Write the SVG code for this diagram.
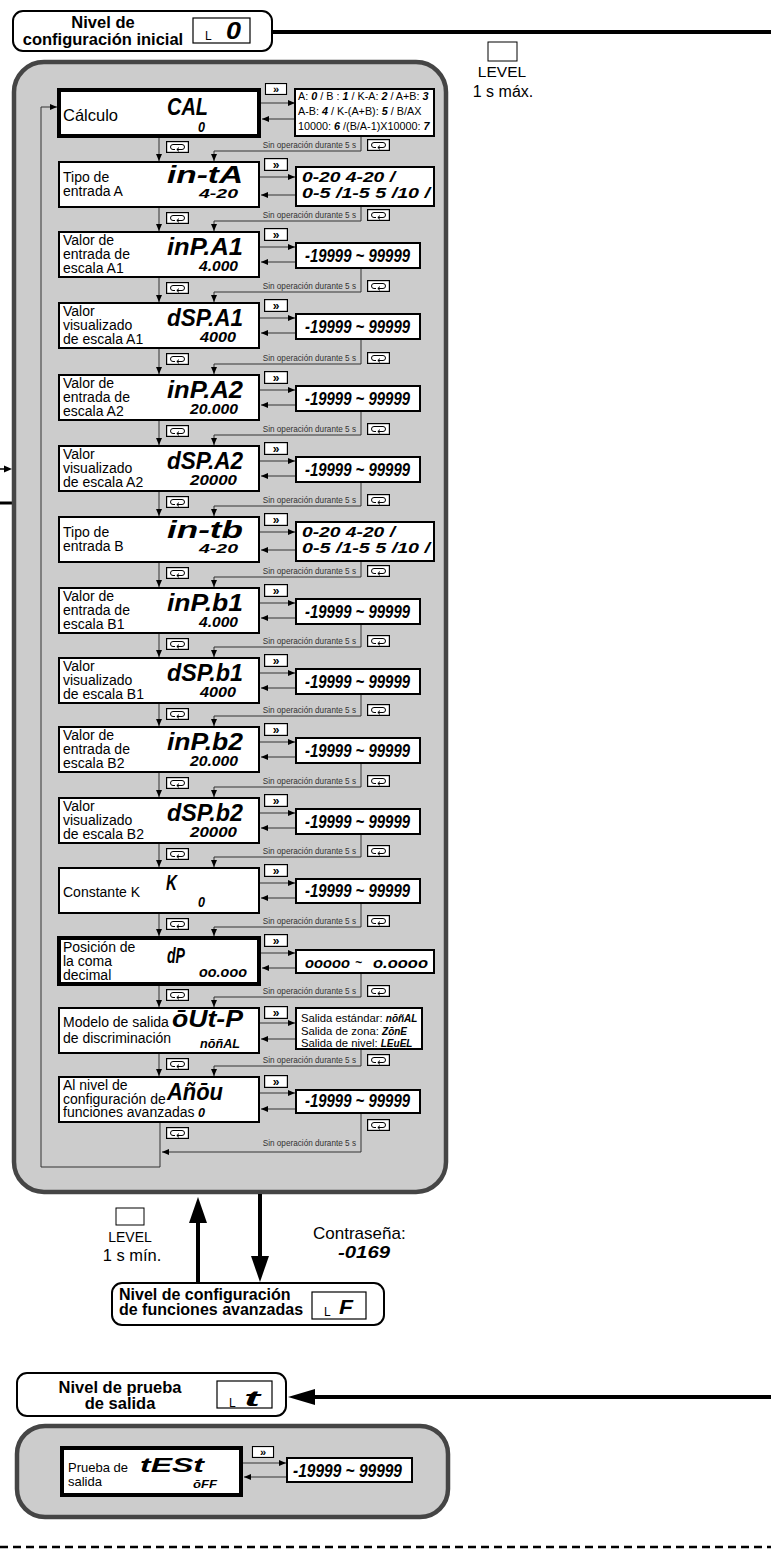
<svg xmlns="http://www.w3.org/2000/svg" width="771" height="1556" viewBox="0 0 771 1556">
<style>
.nd{fill:#fff;stroke:#000;stroke-width:2}
.nt{fill:#fff;stroke:#000;stroke-width:4}
.rb{fill:#fff;stroke:#000;stroke-width:2}
.sb{fill:#fff;stroke:#000;stroke-width:1.2}
.lb{font-family:"Liberation Sans",Arial,sans-serif;font-size:14px;fill:#000}
.sg{font-family:"Liberation Sans",Arial,sans-serif;font-weight:bold;font-style:italic;fill:#000}
.so{font-family:"Liberation Sans",Arial,sans-serif;font-size:8.2px;fill:#333}
.hd{font-family:"Liberation Sans",Arial,sans-serif;font-weight:bold;fill:#000}
.cn{fill:none;stroke:#333;stroke-width:1}
.pn{fill:#cccccc;stroke:#454545;stroke-width:4.5}
.thick{fill:none;stroke:#000;stroke-width:4}
</style>
<defs>
<marker id="ah" viewBox="0 0 7 6" refX="7" refY="3" markerWidth="7" markerHeight="6" markerUnits="userSpaceOnUse" orient="auto"><path d="M0,0 L7,3 L0,6 z" fill="#000"/></marker>
<symbol id="lp" viewBox="0 0 23 12"><rect x="0.6" y="0.6" width="21.8" height="10.8" fill="#fff" stroke="#000" stroke-width="1.2"/><path d="M12,3.5 H7 A2.5,2.5 0 0 0 7,8.5 H9 M10,3.5 H16 A2.5,2.5 0 0 1 16,8.5 H11 M13,6.6 L10.8,8.5 L13,10.4" fill="none" stroke="#000" stroke-width="1"/></symbol>
<symbol id="ff" viewBox="0 0 24 13"><rect x="0.6" y="0.6" width="22.8" height="11.8" fill="#fff" stroke="#000" stroke-width="1.2"/><text x="12" y="10.5" text-anchor="middle" font-family="Liberation Sans, Arial, sans-serif" font-size="12" font-weight="bold">»</text></symbol>
</defs>

<!-- partial connectors from the left edge -->
<g id="edge-left">
<path d="M0,469 H6" fill="none" stroke="#000" stroke-width="1.5"/>
<polygon points="12,469 4,465.5 4,472.5" fill="#000"/>
<path d="M0,503 H12" fill="none" stroke="#000" stroke-width="3"/>
</g>

<!-- header: initial setting level -->
<g id="lvl-init">
<path d="M272,32 H771" class="thick"/>
<rect x="13" y="11" width="259" height="40" rx="10" fill="#fff" stroke="#000" stroke-width="2"/>
<text class="hd" font-size="16.5" text-anchor="middle"><tspan x="103" y="28">Nivel de</tspan><tspan x="103" y="45">configuración inicial</tspan></text>
<rect x="193" y="18" width="57" height="25" class="sb"/>
<text class="lb" x="205" y="40" style="font-size:12px">L</text>
<text class="sg" x="226" y="39" font-size="23" textLength="15" lengthAdjust="spacingAndGlyphs">0</text>
</g>

<g id="hint-top">
<rect x="488" y="42" width="29" height="19" fill="#fff" stroke="#000" stroke-width="1"/>
<text class="lb" x="502" y="77" style="font-size:15.5px" text-anchor="middle">LEVEL</text>
<text class="lb" x="503" y="97" style="font-size:16px" text-anchor="middle">1 s máx.</text>
</g>

<!-- main panel -->
<g id="panel-main">
<rect x="14" y="62" width="432" height="1130" rx="30" class="pn"/>
</g>

<!-- connectors -->
<g id="connectors">
<g class="cn" marker-end="url(#ah)">
<path d="M159,136 V161"/><path d="M159,207 V231"/><path d="M159,277 V302"/><path d="M159,348 V374"/>
<path d="M159,420 V445"/><path d="M159,491 V516"/><path d="M159,562 V587"/><path d="M159,633 V657"/>
<path d="M159,703 V726"/><path d="M159,772 V797"/><path d="M159,843 V867"/><path d="M159,913 V936"/>
<path d="M159,984 V1007"/><path d="M159,1053 V1076"/>
</g>
<g class="cn" marker-end="url(#ah)">
<path d="M261,103 H295"/><path d="M260,177 H295"/><path d="M260,247 H295"/><path d="M260,318 H295"/>
<path d="M260,390 H295"/><path d="M260,461 H295"/><path d="M260,532 H295"/><path d="M260,603 H295"/>
<path d="M260,673 H295"/><path d="M260,742 H295"/><path d="M260,813 H295"/><path d="M260,883 H295"/>
<path d="M261,953 H295"/><path d="M260,1023 H295"/><path d="M260,1093 H295"/>
</g>
<g class="cn" marker-end="url(#ah)">
<path d="M295,119 H262"/><path d="M295,195 H261"/><path d="M295,262 H261"/><path d="M295,333 H261"/>
<path d="M295,405 H261"/><path d="M295,476 H261"/><path d="M295,550 H261"/><path d="M295,618 H261"/>
<path d="M295,688 H261"/><path d="M295,757 H261"/><path d="M295,828 H261"/><path d="M295,898 H261"/>
<path d="M295,968 H262"/><path d="M295,1039 H261"/><path d="M295,1109 H261"/>
</g>
<g class="cn" marker-end="url(#ah)">
<path d="M361,136 V151 H214 V161"/><path d="M361,206 V221 H214 V231"/><path d="M361,268 V292 H214 V302"/>
<path d="M361,339 V364 H214 V374"/><path d="M361,411 V435 H214 V445"/><path d="M361,482 V506 H214 V516"/>
<path d="M361,561 V577 H214 V587"/><path d="M361,624 V647 H214 V657"/><path d="M361,694 V716 H214 V726"/>
<path d="M361,763 V787 H214 V797"/><path d="M361,834 V857 H214 V867"/><path d="M361,903 V927 H214 V936"/>
<path d="M361,973 V997 H214 V1007"/><path d="M361,1049 V1066 H214 V1076"/>
<path d="M361,1113 V1152 H162"/>
<path d="M160,1122 V1167 H41 V107 H57"/>
</g>
<g class="so" text-anchor="end">
<text x="356" y="148">Sin operación durante 5 s</text><text x="356" y="218">Sin operación durante 5 s</text>
<text x="356" y="289">Sin operación durante 5 s</text><text x="356" y="361">Sin operación durante 5 s</text>
<text x="356" y="432">Sin operación durante 5 s</text><text x="356" y="503">Sin operación durante 5 s</text>
<text x="356" y="574">Sin operación durante 5 s</text><text x="356" y="644">Sin operación durante 5 s</text>
<text x="356" y="713">Sin operación durante 5 s</text><text x="356" y="784">Sin operación durante 5 s</text>
<text x="356" y="854">Sin operación durante 5 s</text><text x="356" y="924">Sin operación durante 5 s</text>
<text x="356" y="994">Sin operación durante 5 s</text><text x="356" y="1063">Sin operación durante 5 s</text>
<text x="356" y="1146">Sin operación durante 5 s</text>
</g>
<g>
<use href="#lp" x="166" y="141" width="23" height="12"/><use href="#lp" x="166" y="212" width="23" height="12"/>
<use href="#lp" x="166" y="282" width="23" height="12"/><use href="#lp" x="166" y="353" width="23" height="12"/>
<use href="#lp" x="166" y="425" width="23" height="12"/><use href="#lp" x="166" y="496" width="23" height="12"/>
<use href="#lp" x="166" y="567" width="23" height="12"/><use href="#lp" x="166" y="638" width="23" height="12"/>
<use href="#lp" x="166" y="708" width="23" height="12"/><use href="#lp" x="166" y="777" width="23" height="12"/>
<use href="#lp" x="166" y="848" width="23" height="12"/><use href="#lp" x="166" y="918" width="23" height="12"/>
<use href="#lp" x="166" y="989" width="23" height="12"/><use href="#lp" x="166" y="1058" width="23" height="12"/>
<use href="#lp" x="166" y="1127" width="23" height="12"/>
<use href="#lp" x="367" y="139" width="23" height="12"/><use href="#lp" x="367" y="209" width="23" height="12"/>
<use href="#lp" x="367" y="280" width="23" height="12"/><use href="#lp" x="367" y="352" width="23" height="12"/>
<use href="#lp" x="367" y="423" width="23" height="12"/><use href="#lp" x="367" y="494" width="23" height="12"/>
<use href="#lp" x="367" y="565" width="23" height="12"/><use href="#lp" x="367" y="635" width="23" height="12"/>
<use href="#lp" x="367" y="704" width="23" height="12"/><use href="#lp" x="367" y="775" width="23" height="12"/>
<use href="#lp" x="367" y="845" width="23" height="12"/><use href="#lp" x="367" y="915" width="23" height="12"/>
<use href="#lp" x="367" y="985" width="23" height="12"/><use href="#lp" x="367" y="1054" width="23" height="12"/>
<use href="#lp" x="367" y="1119" width="23" height="12"/>
</g>
<g>
<use href="#ff" x="264" y="83" width="24" height="12"/><use href="#ff" x="264" y="158" width="24" height="13"/>
<use href="#ff" x="264" y="228" width="24" height="13"/><use href="#ff" x="264" y="299" width="24" height="13"/>
<use href="#ff" x="264" y="371" width="24" height="13"/><use href="#ff" x="264" y="442" width="24" height="13"/>
<use href="#ff" x="264" y="513" width="24" height="13"/><use href="#ff" x="264" y="584" width="24" height="13"/>
<use href="#ff" x="264" y="654" width="24" height="13"/><use href="#ff" x="264" y="723" width="24" height="13"/>
<use href="#ff" x="264" y="794" width="24" height="13"/><use href="#ff" x="264" y="864" width="24" height="13"/>
<use href="#ff" x="264" y="934" width="24" height="13"/><use href="#ff" x="264" y="1006" width="24" height="13"/>
<use href="#ff" x="264" y="1075" width="24" height="13"/>
</g>
</g>

<!-- setting nodes -->
<g id="n-cal"><rect x="59" y="90" width="200" height="46" class="nt"/><text class="lb" x="63" y="121" style="font-size:16.5px">Cálculo</text>
<text class="sg" x="167" y="115" font-size="24" textLength="41" lengthAdjust="spacingAndGlyphs">CAL</text>
<text class="sg" x="198" y="132" font-size="14" textLength="7" lengthAdjust="spacingAndGlyphs">0</text></g>
<g id="r-cal"><rect x="295" y="89" width="139" height="47" class="rb"/>
<text class="lb" style="font-size:10.8px"><tspan x="298" y="100">A: <tspan class="sg">0</tspan> / B : <tspan class="sg">1</tspan> / K-A: <tspan class="sg">2</tspan> / A+B: <tspan class="sg">3</tspan></tspan><tspan x="298" y="115">A-B: <tspan class="sg">4</tspan> / K-(A+B): <tspan class="sg">5</tspan> / B/AX</tspan><tspan x="298" y="130">10000: <tspan class="sg">6</tspan> /(B/A-1)X10000: <tspan class="sg">7</tspan></tspan></text></g>

<g id="n-in-ta"><rect x="59" y="162" width="200" height="45" class="nd"/><text class="lb"><tspan x="63" y="182">Tipo de</tspan><tspan x="63" y="196">entrada A</tspan></text>
<text class="sg" x="167" y="183" font-size="23" textLength="76" lengthAdjust="spacingAndGlyphs">in-tA</text>
<text class="sg" x="199" y="198" font-size="13" textLength="39" lengthAdjust="spacingAndGlyphs">4-20</text></g>
<g id="r-in-ta"><rect x="296" y="167" width="138" height="39" class="rb"/>
<text class="sg" x="302" y="182" font-size="14" textLength="93" lengthAdjust="spacingAndGlyphs">0-20 4-20 /</text>
<text class="sg" x="302" y="198" font-size="14" textLength="128" lengthAdjust="spacingAndGlyphs">0-5 /1-5 5 /10 /</text></g>

<g id="n-inp-a1"><rect x="59" y="232" width="200" height="45" class="nd"/><text class="lb"><tspan x="63" y="245">Valor de</tspan><tspan x="63" y="259">entrada de</tspan><tspan x="63" y="273">escala A1</tspan></text>
<text class="sg" x="167" y="255" font-size="24" textLength="76" lengthAdjust="spacingAndGlyphs">inP.A1</text>
<text class="sg" x="199" y="271" font-size="14" textLength="39" lengthAdjust="spacingAndGlyphs">4.000</text></g>
<g id="r-inp-a1"><rect x="296" y="243" width="124" height="25" class="rb"/><text class="sg" x="305" y="262" font-size="18" textLength="105" lengthAdjust="spacingAndGlyphs">-19999 ~ 99999</text></g>

<g id="n-dsp-a1"><rect x="59" y="303" width="200" height="45" class="nd"/><text class="lb"><tspan x="63" y="316">Valor</tspan><tspan x="63" y="330">visualizado</tspan><tspan x="63" y="344">de escala A1</tspan></text>
<text class="sg" x="167" y="326" font-size="24" textLength="76" lengthAdjust="spacingAndGlyphs">dSP.A1</text>
<text class="sg" x="200" y="342" font-size="14" textLength="36" lengthAdjust="spacingAndGlyphs">4000</text></g>
<g id="r-dsp-a1"><rect x="296" y="314" width="124" height="25" class="rb"/><text class="sg" x="305" y="333" font-size="18" textLength="105" lengthAdjust="spacingAndGlyphs">-19999 ~ 99999</text></g>

<g id="n-inp-a2"><rect x="59" y="375" width="200" height="45" class="nd"/><text class="lb"><tspan x="63" y="388">Valor de</tspan><tspan x="63" y="402">entrada de</tspan><tspan x="63" y="416">escala A2</tspan></text>
<text class="sg" x="167" y="398" font-size="24" textLength="76" lengthAdjust="spacingAndGlyphs">inP.A2</text>
<text class="sg" x="190" y="414" font-size="14" textLength="48" lengthAdjust="spacingAndGlyphs">20.000</text></g>
<g id="r-inp-a2"><rect x="296" y="386" width="124" height="25" class="rb"/><text class="sg" x="305" y="405" font-size="18" textLength="105" lengthAdjust="spacingAndGlyphs">-19999 ~ 99999</text></g>

<g id="n-dsp-a2"><rect x="59" y="446" width="200" height="45" class="nd"/><text class="lb"><tspan x="63" y="459">Valor</tspan><tspan x="63" y="473">visualizado</tspan><tspan x="63" y="487">de escala A2</tspan></text>
<text class="sg" x="167" y="469" font-size="24" textLength="76" lengthAdjust="spacingAndGlyphs">dSP.A2</text>
<text class="sg" x="190" y="485" font-size="14" textLength="47" lengthAdjust="spacingAndGlyphs">20000</text></g>
<g id="r-dsp-a2"><rect x="296" y="457" width="124" height="25" class="rb"/><text class="sg" x="305" y="476" font-size="18" textLength="105" lengthAdjust="spacingAndGlyphs">-19999 ~ 99999</text></g>

<g id="n-in-tb"><rect x="59" y="517" width="200" height="45" class="nd"/><text class="lb"><tspan x="63" y="537">Tipo de</tspan><tspan x="63" y="551">entrada B</tspan></text>
<text class="sg" x="167" y="538" font-size="23" textLength="76" lengthAdjust="spacingAndGlyphs">in-tb</text>
<text class="sg" x="199" y="553" font-size="13" textLength="39" lengthAdjust="spacingAndGlyphs">4-20</text></g>
<g id="r-in-tb"><rect x="296" y="522" width="138" height="39" class="rb"/>
<text class="sg" x="302" y="537" font-size="14" textLength="93" lengthAdjust="spacingAndGlyphs">0-20 4-20 /</text>
<text class="sg" x="302" y="553" font-size="14" textLength="128" lengthAdjust="spacingAndGlyphs">0-5 /1-5 5 /10 /</text></g>

<g id="n-inp-b1"><rect x="59" y="588" width="200" height="45" class="nd"/><text class="lb"><tspan x="63" y="601">Valor de</tspan><tspan x="63" y="615">entrada de</tspan><tspan x="63" y="629">escala B1</tspan></text>
<text class="sg" x="167" y="611" font-size="24" textLength="76" lengthAdjust="spacingAndGlyphs">inP.b1</text>
<text class="sg" x="199" y="627" font-size="14" textLength="39" lengthAdjust="spacingAndGlyphs">4.000</text></g>
<g id="r-inp-b1"><rect x="296" y="599" width="124" height="25" class="rb"/><text class="sg" x="305" y="618" font-size="18" textLength="105" lengthAdjust="spacingAndGlyphs">-19999 ~ 99999</text></g>

<g id="n-dsp-b1"><rect x="59" y="658" width="200" height="45" class="nd"/><text class="lb"><tspan x="63" y="671">Valor</tspan><tspan x="63" y="685">visualizado</tspan><tspan x="63" y="699">de escala B1</tspan></text>
<text class="sg" x="167" y="681" font-size="24" textLength="76" lengthAdjust="spacingAndGlyphs">dSP.b1</text>
<text class="sg" x="200" y="697" font-size="14" textLength="36" lengthAdjust="spacingAndGlyphs">4000</text></g>
<g id="r-dsp-b1"><rect x="296" y="669" width="124" height="25" class="rb"/><text class="sg" x="305" y="688" font-size="18" textLength="105" lengthAdjust="spacingAndGlyphs">-19999 ~ 99999</text></g>

<g id="n-inp-b2"><rect x="59" y="727" width="200" height="45" class="nd"/><text class="lb"><tspan x="63" y="740">Valor de</tspan><tspan x="63" y="754">entrada de</tspan><tspan x="63" y="768">escala B2</tspan></text>
<text class="sg" x="167" y="750" font-size="24" textLength="76" lengthAdjust="spacingAndGlyphs">inP.b2</text>
<text class="sg" x="190" y="766" font-size="14" textLength="48" lengthAdjust="spacingAndGlyphs">20.000</text></g>
<g id="r-inp-b2"><rect x="296" y="738" width="124" height="25" class="rb"/><text class="sg" x="305" y="757" font-size="18" textLength="105" lengthAdjust="spacingAndGlyphs">-19999 ~ 99999</text></g>

<g id="n-dsp-b2"><rect x="59" y="798" width="200" height="45" class="nd"/><text class="lb"><tspan x="63" y="811">Valor</tspan><tspan x="63" y="825">visualizado</tspan><tspan x="63" y="839">de escala B2</tspan></text>
<text class="sg" x="167" y="821" font-size="24" textLength="76" lengthAdjust="spacingAndGlyphs">dSP.b2</text>
<text class="sg" x="190" y="837" font-size="14" textLength="47" lengthAdjust="spacingAndGlyphs">20000</text></g>
<g id="r-dsp-b2"><rect x="296" y="809" width="124" height="25" class="rb"/><text class="sg" x="305" y="828" font-size="18" textLength="105" lengthAdjust="spacingAndGlyphs">-19999 ~ 99999</text></g>

<g id="n-k"><rect x="59" y="868" width="200" height="45" class="nd"/><text class="lb" x="63" y="897">Constante K</text>
<text class="sg" x="166" y="890" font-size="22" textLength="11" lengthAdjust="spacingAndGlyphs">K</text>
<text class="sg" x="198" y="907" font-size="14" textLength="7" lengthAdjust="spacingAndGlyphs">0</text></g>
<g id="r-k"><rect x="296" y="879" width="124" height="24" class="rb"/><text class="sg" x="305" y="897" font-size="18" textLength="105" lengthAdjust="spacingAndGlyphs">-19999 ~ 99999</text></g>

<g id="n-dp"><rect x="59" y="938" width="200" height="46" class="nt"/><text class="lb"><tspan x="63" y="952">Posición de</tspan><tspan x="63" y="966">la coma</tspan><tspan x="63" y="980">decimal</tspan></text>
<text class="sg" x="167" y="963" font-size="22" textLength="18" lengthAdjust="spacingAndGlyphs">dP</text>
<text class="sg" x="199" y="977" font-size="14" textLength="48" lengthAdjust="spacingAndGlyphs">oo.ooo</text></g>
<g id="r-dp"><rect x="296" y="950" width="138" height="23" class="rb"/>
<text class="sg" x="305" y="968" font-size="14" textLength="45" lengthAdjust="spacingAndGlyphs">ooooo</text>
<text class="sg" x="355" y="967" font-size="12">~</text>
<text class="sg" x="373" y="968" font-size="14" textLength="55" lengthAdjust="spacingAndGlyphs">o.oooo</text></g>

<g id="n-out-p"><rect x="59" y="1008" width="200" height="45" class="nd"/><text class="lb"><tspan x="63" y="1027">Modelo de salida</tspan><tspan x="63" y="1043">de discriminación</tspan></text>
<text class="sg" x="172" y="1027" font-size="24" textLength="71" lengthAdjust="spacingAndGlyphs">ōUt-P</text>
<text class="sg" x="200" y="1048" font-size="12" textLength="40" lengthAdjust="spacingAndGlyphs">nōñAL</text></g>
<g id="r-out-p"><rect x="296" y="1008" width="126" height="41" class="rb"/>
<text class="lb" style="font-size:11.3px"><tspan x="301" y="1022">Salida estándar: <tspan class="sg" style="font-size:10px">nōñAL</tspan></tspan><tspan x="301" y="1035">Salida de zona: <tspan class="sg" style="font-size:10px">ZōnE</tspan></tspan><tspan x="301" y="1047">Salida de nivel: <tspan class="sg" style="font-size:10px">LEuEL</tspan></tspan></text></g>

<g id="n-amov"><rect x="59" y="1077" width="200" height="45" class="nd"/><text class="lb"><tspan x="63" y="1090">Al nivel de</tspan><tspan x="63" y="1104">configuración de</tspan><tspan x="63" y="1117">funciones avanzadas</tspan></text>
<text class="sg" x="167" y="1100" font-size="23" textLength="56" lengthAdjust="spacingAndGlyphs">Añōu</text>
<text class="sg" x="198" y="1117" font-size="13" textLength="7" lengthAdjust="spacingAndGlyphs">0</text></g>
<g id="r-amov"><rect x="296" y="1090" width="124" height="23" class="rb"/><text class="sg" x="305" y="1107" font-size="18" textLength="105" lengthAdjust="spacingAndGlyphs">-19999 ~ 99999</text></g>

<!-- transition to advanced level -->
<g id="hint-bottom">
<rect x="116" y="1208" width="28" height="17" fill="#fff" stroke="#000" stroke-width="1"/>
<text class="lb" x="130" y="1242" style="font-size:14px" text-anchor="middle">LEVEL</text>
<text class="lb" x="132" y="1261" style="font-size:16.5px" text-anchor="middle">1 s mín.</text>
</g>
<g id="arrows-adv">
<path d="M198,1283 V1215" class="thick"/>
<polygon points="198,1197 189,1223 207,1223" fill="#000"/>
<path d="M260,1194 V1262" class="thick"/>
<polygon points="260,1282 251,1256 269,1256" fill="#000"/>
</g>
<g id="password">
<text class="lb" x="313" y="1239" style="font-size:17px">Contraseña:</text>
<text class="sg" x="338" y="1258" font-size="17" textLength="52" lengthAdjust="spacingAndGlyphs">-0169</text>
</g>
<g id="lvl-adv">
<rect x="112" y="1283" width="272" height="42" rx="10" fill="#fff" stroke="#000" stroke-width="2"/>
<text class="hd" font-size="16"><tspan x="119" y="1300">Nivel de configuración</tspan><tspan x="119" y="1315">de funciones avanzadas</tspan></text>
<rect x="312" y="1292" width="54" height="27" class="sb"/>
<text class="lb" x="324" y="1316" style="font-size:12px">L</text>
<text class="sg" x="339" y="1314" font-size="20" textLength="14" lengthAdjust="spacingAndGlyphs">F</text>
</g>

<!-- output test level -->
<g id="arrow-test">
<path d="M771,1397 H305" class="thick"/>
<polygon points="288,1397 315,1389 315,1405" fill="#000"/>
</g>
<g id="lvl-test">
<rect x="17" y="1373" width="269" height="43" rx="10" fill="#fff" stroke="#000" stroke-width="2"/>
<text class="hd" font-size="16.5" text-anchor="middle"><tspan x="120" y="1393">Nivel de prueba</tspan><tspan x="120" y="1409">de salida</tspan></text>
<rect x="217" y="1381" width="55" height="27" class="sb"/>
<text class="lb" x="229" y="1407" style="font-size:12px">L</text>
<text class="sg" x="244" y="1406" font-size="22" textLength="16" lengthAdjust="spacingAndGlyphs">t</text>
</g>
<g id="panel-test">
<rect x="17" y="1426" width="431" height="91" rx="28" class="pn"/>
</g>
<g id="n-test"><rect x="62" y="1448" width="179" height="47" class="nt"/>
<text class="lb" style="font-size:13px"><tspan x="68" y="1472">Prueba de</tspan><tspan x="68" y="1486">salida</tspan></text>
<text class="sg" x="140" y="1472" font-size="20" textLength="64" lengthAdjust="spacingAndGlyphs">tESt</text>
<text class="sg" x="193" y="1488" font-size="11" textLength="24" lengthAdjust="spacingAndGlyphs">ōFF</text></g>
<g id="r-test"><rect x="287" y="1458" width="125" height="24" class="rb"/><text class="sg" x="293" y="1477" font-size="18" textLength="109" lengthAdjust="spacingAndGlyphs">-19999 ~ 99999</text></g>
<g id="connectors-test">
<use href="#ff" x="251" y="1446" width="24" height="12"/>
<path d="M243,1463 H286" class="cn" marker-end="url(#ah)"/>
<path d="M286,1477 H244" class="cn" marker-end="url(#ah)"/>
</g>

<g id="divider">
<path d="M0,1547 H771" fill="none" stroke="#000" stroke-width="2.5" stroke-dasharray="8 5"/>
</g>
</svg>
